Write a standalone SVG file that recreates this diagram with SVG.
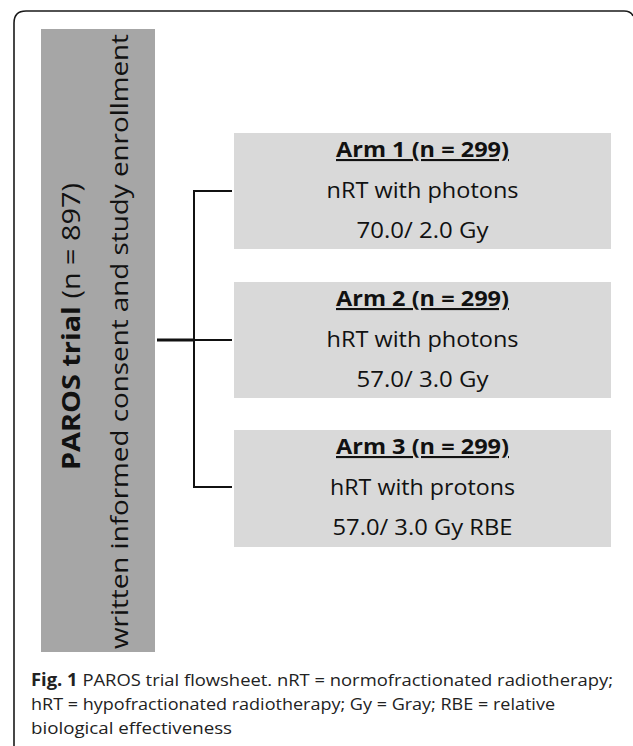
<svg xmlns="http://www.w3.org/2000/svg" width="633" height="746" viewBox="0 0 633 746">
<style>
.frame{fill:none;stroke:#1a1a1a;stroke-width:1.6}
.main{fill:#a6a6a6}
.arm{fill:#d9d9d9}
.conn{stroke:#111;stroke-width:2;fill:none}
.t{font-family:"Open Sans","Noto Sans","DejaVu Sans",sans-serif;fill:#111}
.armt{font-size:21px;text-anchor:middle}
.b{font-weight:bold}
.cap{font-family:"Open Sans","Liberation Sans",sans-serif;font-size:17px;fill:#222}
</style>
<rect width="633" height="746" fill="#fff"/>
<path class="frame" d="M14,746 V23 Q14,11 26,11 H624 Q631,11 633,16"/>

<g id="enrollment">
<rect class="main" x="41" y="29" width="114" height="623"/>
<text class="t" transform="translate(80,470) rotate(-90)" font-size="25" textLength="287" lengthAdjust="spacingAndGlyphs"><tspan font-weight="bold">PAROS trial</tspan> (n = 897)</text>
<text class="t" transform="translate(128,649) rotate(-90)" font-size="24" textLength="615" lengthAdjust="spacingAndGlyphs">written informed consent and study enrollment</text>
</g>

<g id="connectors">
<line x1="157" y1="340" x2="195" y2="340" stroke="#111" stroke-width="3.2"/>
<path class="conn" d="M232,191 H194 V487 H232"/>
<line class="conn" x1="194" y1="340" x2="232" y2="340"/>
</g>

<g id="arm1">
<rect class="arm" x="234" y="133" width="377" height="116"/>
<text class="t armt b" x="422.5" y="157" text-decoration="underline" textLength="173" lengthAdjust="spacingAndGlyphs">Arm 1 (n = 299)</text>
<text class="t armt" x="422.5" y="198" textLength="192" lengthAdjust="spacingAndGlyphs">nRT with photons</text>
<text class="t armt" x="422.5" y="238" textLength="132" lengthAdjust="spacingAndGlyphs">70.0/ 2.0 Gy</text>
</g>

<g id="arm2">
<rect class="arm" x="234" y="282" width="377" height="116"/>
<text class="t armt b" x="422.5" y="306" text-decoration="underline" textLength="173" lengthAdjust="spacingAndGlyphs">Arm 2 (n = 299)</text>
<text class="t armt" x="422.5" y="347" textLength="192" lengthAdjust="spacingAndGlyphs">hRT with photons</text>
<text class="t armt" x="422.5" y="387" textLength="132" lengthAdjust="spacingAndGlyphs">57.0/ 3.0 Gy</text>
</g>

<g id="arm3">
<rect class="arm" x="234" y="430" width="377" height="117"/>
<text class="t armt b" x="422.5" y="454" text-decoration="underline" textLength="173" lengthAdjust="spacingAndGlyphs">Arm 3 (n = 299)</text>
<text class="t armt" x="422.5" y="495" textLength="185" lengthAdjust="spacingAndGlyphs">hRT with protons</text>
<text class="t armt" x="422.5" y="535" textLength="180" lengthAdjust="spacingAndGlyphs">57.0/ 3.0 Gy RBE</text>
</g>

<g id="caption">
<text class="cap" x="31" y="686" textLength="582" lengthAdjust="spacingAndGlyphs"><tspan font-weight="bold">Fig. 1</tspan> PAROS trial flowsheet. nRT = normofractionated radiotherapy;</text>
<text class="cap" x="31" y="710" textLength="524" lengthAdjust="spacingAndGlyphs">hRT = hypofractionated radiotherapy; Gy = Gray; RBE = relative</text>
<text class="cap" x="31" y="734" textLength="201" lengthAdjust="spacingAndGlyphs">biological effectiveness</text>
</g>
</svg>
